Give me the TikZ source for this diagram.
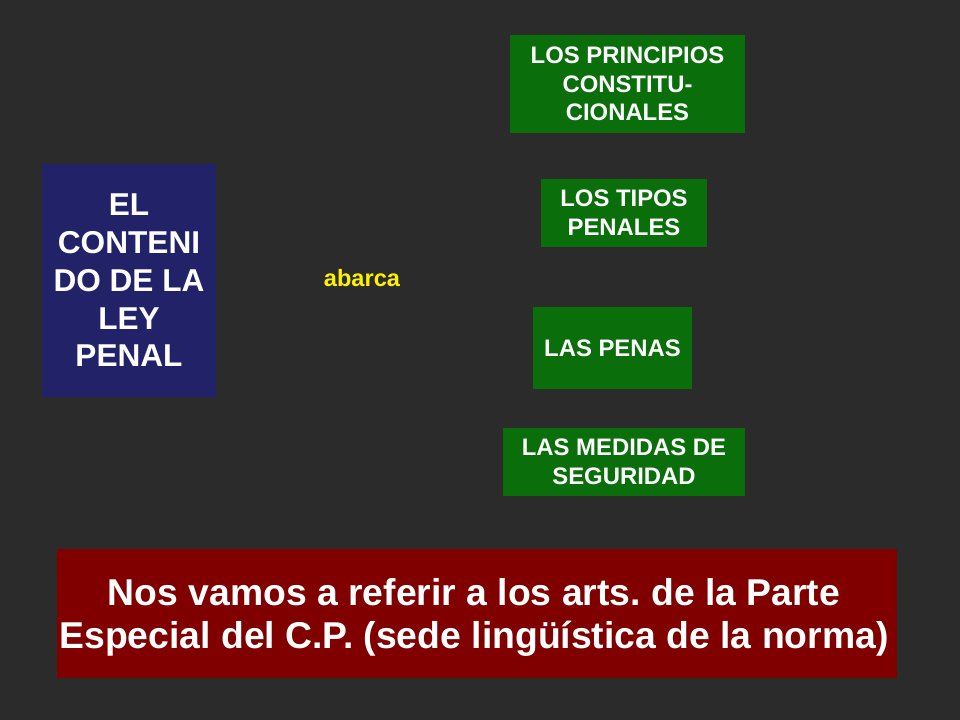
\documentclass[tikz,border=0pt]{standalone}
\usepackage{fontspec}
\setmainfont{Liberation Sans}
\frenchspacing
\definecolor{bgc}{RGB}{43,43,43}
\definecolor{bluebox}{RGB}{34,34,104}
\definecolor{greenbox}{RGB}{10,110,10}
\definecolor{redbox}{RGB}{128,0,0}
\begin{document}
\begin{tikzpicture}[x=0.75pt,y=-0.75pt,
  box/.style={rectangle,inner sep=0pt,align=center,text=white,font=\bfseries},
  greenb/.style={box,fill=greenbox,font=\fontsize{17.9}{21.4}\selectfont\bfseries},
  blueb/.style={box,fill=bluebox,font=\fontsize{23.7}{28.3}\selectfont\bfseries},
  redb/.style={box,fill=redbox,font=\fontsize{28}{32.3}\selectfont\bfseries},
  lbl/.style={text=yellow,font=\fontsize{17.7}{20}\selectfont\bfseries,inner sep=0pt}]
\fill[bgc] (0,0) rectangle (960,720);
\useasboundingbox (0,0) rectangle (960,720);
\node[blueb,minimum width=130.5pt,minimum height=174.75pt] (ley) at (129,280.5) {EL\\CONTENI\\DO DE LA\\LEY\\PENAL};
\node[lbl] (abarca) at (362,278) {abarca};
\node[greenb,minimum width=176.25pt,minimum height=73.5pt] (princ) at (627.5,84) {LOS PRINCIPIOS\\CONSTITU-\\CIONALES};
\node[greenb,minimum width=124.5pt,minimum height=51pt] (tipos) at (624,213) {LOS TIPOS\\PENALES};
\node[greenb,minimum width=119.25pt,minimum height=61.5pt] (penas) at (612.5,348) {LAS PENAS};
\node[greenb,minimum width=181.5pt,minimum height=51pt] (medidas) at (624,462) {LAS MEDIDAS DE\\SEGURIDAD};
\node[redb,minimum width=630pt,minimum height=96.75pt] (nota) at (477,613) {};
\node[redb,fill=none] (notatxt) at (474,617) {Nos vamos a referir a los arts. de la Parte\\Especial del C.P. (sede lingüística de la norma)};
\end{tikzpicture}
\end{document}
